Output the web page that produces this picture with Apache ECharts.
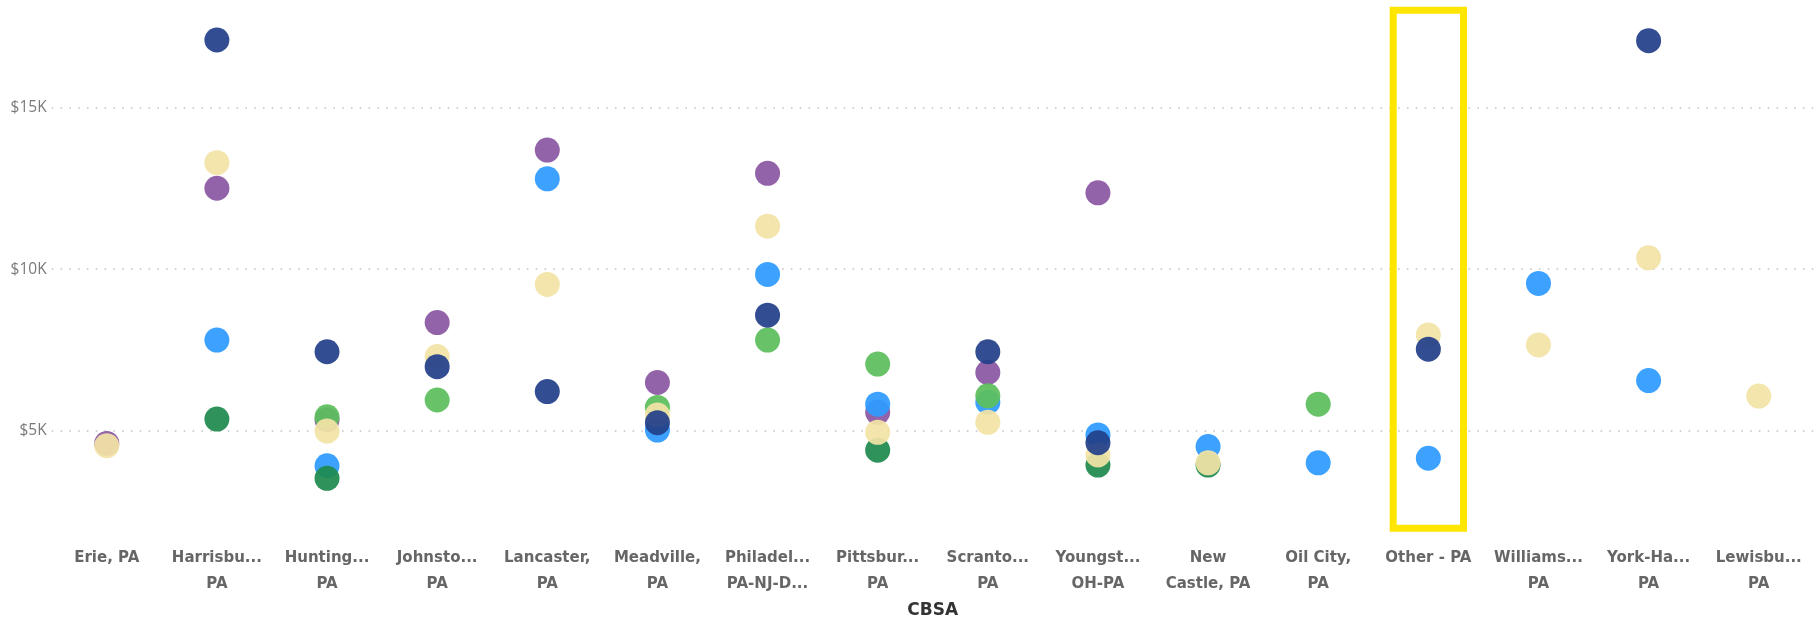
<!DOCTYPE html>
<html>
<head>
<meta charset="utf-8">
<title>CBSA scatter</title>
<script src="https://cdn.jsdelivr.net/npm/echarts@6/dist/echarts.min.js"></script>
<style>
  html, body { margin: 0; padding: 0; background: #ffffff; }
  #chart { width: 1820px; height: 620px; }
</style>
</head>
<body>
<div id="chart"></div>
<script>
// Category labels as shown on the axis (truncated by the axis layout)
const categories = [
  "Erie, PA", "Harrisbu...\nPA", "Hunting...\nPA", "Johnsto...\nPA",
  "Lancaster,\nPA", "Meadville,\nPA", "Philadel...\nPA-NJ-D...", "Pittsbur...\nPA",
  "Scranto...\nPA", "Youngst...\nOH-PA", "New\nCastle, PA", "Oil City,\nPA",
  "Other - PA", "Williams...\nPA", "York-Ha...\nPA", "Lewisbu...\nPA"
];

// Values per group, one entry per category (null = no point)
const purpleValues    = [4620, 12500, 5350, 8350, 13680, 6500, 12960, 5580, 6810, 12360, null, null, null, null, null, null];
const blueValues      = [null, 7810, 3930, null, 12790, 5030, 9840, 5830, 5890, 4880, 4520, 4020, 4160, 9560, 6560, null];
const lightGreenValues= [null, null, 5440, 5960, null, 5730, 7810, 7070, 6090, null, null, 5830, null, null, null, null];
const darkGreenValues = [null, 5370, 3540, null, null, null, null, 4410, null, 3950, 3950, null, null, null, null, null];
const sandValues      = [4550, 13290, 5000, 7300, 9530, 5500, 11330, 4960, 5270, 4260, 4020, null, 7970, 7660, 10350, 6080];
const navyValues      = [null, 17080, 7450, 6990, 6220, 5260, 8580, null, 7450, 4640, null, null, 7530, null, 17060, null];

// Y axis tick labels
const yTicks = [5000, 10000, 15000];
const highlightCategory = "Other - PA";

const groups = [
  { name: "Group A", color: "#8b57a4", values: purpleValues },
  { name: "Group B", color: "#2e9bff", values: blueValues },
  { name: "Group C", color: "#5dbe5c", values: lightGreenValues },
  { name: "Group D", color: "#1f8a4f", values: darkGreenValues },
  { name: "Group E", color: "#f2e3a6", values: sandValues },
  { name: "Group F", color: "#223f8a", values: navyValues }
];

const chart = echarts.init(document.getElementById('chart'), null, { renderer: 'canvas' });

const option = {
  animation: false,
  backgroundColor: '#ffffff',
  grid: {
    left: 51.7, right: 6.2, top: 10.2, bottom: 91.8,
    containLabel: false,
    outerBoundsMode: 'none'
  },
  xAxis: {
    type: 'category',
    data: categories,
    boundaryGap: true,
    axisLine: { show: false },
    axisTick: { show: false },
    splitLine: { show: false },
    axisLabel: {
      interval: 0,
      margin: 17,
      color: '#666666',
      fontFamily: 'DejaVu Sans',
      fontWeight: 'bold',
      fontSize: 15,
      lineHeight: 26
    },
    name: 'CBSA',
    nameLocation: 'middle',
    nameGap: 66,
    nameTextStyle: {
      color: '#333333',
      fontFamily: 'DejaVu Sans',
      fontWeight: 'bold',
      fontSize: 17
    }
  },
  yAxis: {
    type: 'value',
    min: 2000,
    max: 18000,
    axisLine: { show: false },
    axisTick: { show: false, customValues: yTicks },
    axisLabel: {
      customValues: yTicks,
      margin: 5,
      color: '#7a7a7a',
      fontFamily: 'Open Sans',
      fontSize: 15.5,
      formatter: v => '$' + (v / 1000) + 'K'
    },
    splitLine: {
      show: true,
      lineStyle: { color: '#c4c4c4', width: 1.6, type: [1.6, 7.2] }
    }
  },
  series: groups.map(g => ({
    name: g.name,
    type: 'scatter',
    symbol: 'circle',
    symbolSize: 25,
    itemStyle: { color: g.color, opacity: 0.93 },
    emphasis: { disabled: true },
    data: g.values
  }))
};

chart.setOption(option);

// Yellow outline around the highlighted category column
const cx = chart.convertToPixel({ xAxisIndex: 0 }, highlightCategory);
const yTop = chart.convertToPixel({ yAxisIndex: 0 }, 18000);
const yBottom = chart.convertToPixel({ yAxisIndex: 0 }, 2000);
const boxWidth = 70.3;
chart.setOption({
  graphic: [{
    type: 'rect',
    z: 100,
    shape: { x: cx - boxWidth / 2, y: yTop, width: boxWidth, height: yBottom - yTop },
    style: { fill: 'none', stroke: '#ffe600', lineWidth: 7 }
  }]
});
</script>
</body>
</html>
